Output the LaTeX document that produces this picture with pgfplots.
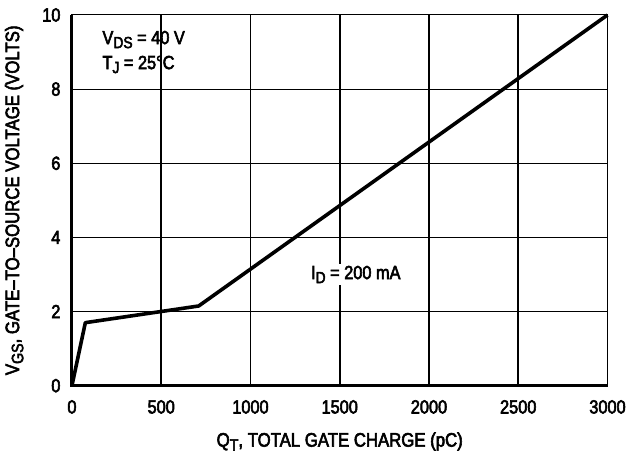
\documentclass[border=0pt]{standalone}
\usepackage{fontspec}
\setmainfont{Liberation Sans}[FakeStretch=0.86, FakeBold=3]
\usepackage{pgfplots}
\usepackage{graphicx}
\pgfplotsset{compat=1.18}
\newcommand{\sub}[1]{\raisebox{-0.4ex}{\scalebox{0.85}{#1}}}
\begin{document}
\begin{tikzpicture}
\begin{axis}[
  scale only axis,
  width=536pt, height=371pt,
  xmin=0, xmax=3000, ymin=0, ymax=10,
  xtick={0,500,1000,1500,2000,2500,3000},
  ytick={0,2,4,6,8,10},
  xticklabels={0,500,1000,1500,2000,2500,3000},
  scaled x ticks=false,
  /pgf/number format/assume math mode=true,
  tick label style={font=\fontsize{19}{22}\selectfont},
  major tick length=0pt,
  xmajorgrids, ymajorgrids,
  major x grid style={black, line width=1.8pt},
  major y grid style={black, line width=1pt},
  axis line style={black, line width=1pt},
  xlabel={Q\sub{T}, TOTAL GATE CHARGE (pC)},
  ylabel={V\sub{GS}, GATE--TO--SOURCE VOLTAGE (VOLTS)},
  label style={font=\fontsize{19.5}{22}\selectfont},
  xlabel style={yshift=-12pt},
  ylabel style={yshift=12pt},
  xticklabel style={yshift=-11pt},
  yticklabel style={xshift=-8pt},
  clip=false,
]
\addplot[black, line width=3.6pt, line join=round] coordinates {
  (0,0) (75,1.70) (710,2.15) (3000,10)
};
\draw[black, line width=3pt] (rel axis cs:0,1) -- (rel axis cs:0,0) -- (rel axis cs:1,0);
\path (rel axis cs:0,0) ++(-72pt,-69pt) (rel axis cs:1,1) ++(21pt,15pt);
\node[anchor=west, align=left, font=\fontsize{19}{25}\selectfont, inner sep=0pt] at (axis cs:170,9.0)
  {V\sub{DS} = 40 V\\T\sub{J} = 25°C};
\node[fill=white, font=\fontsize{19}{22}\selectfont, inner sep=2pt] at (axis cs:1590,3.0)
  {I\sub{D} = 200 mA};
\end{axis}
\end{tikzpicture}
\end{document}
